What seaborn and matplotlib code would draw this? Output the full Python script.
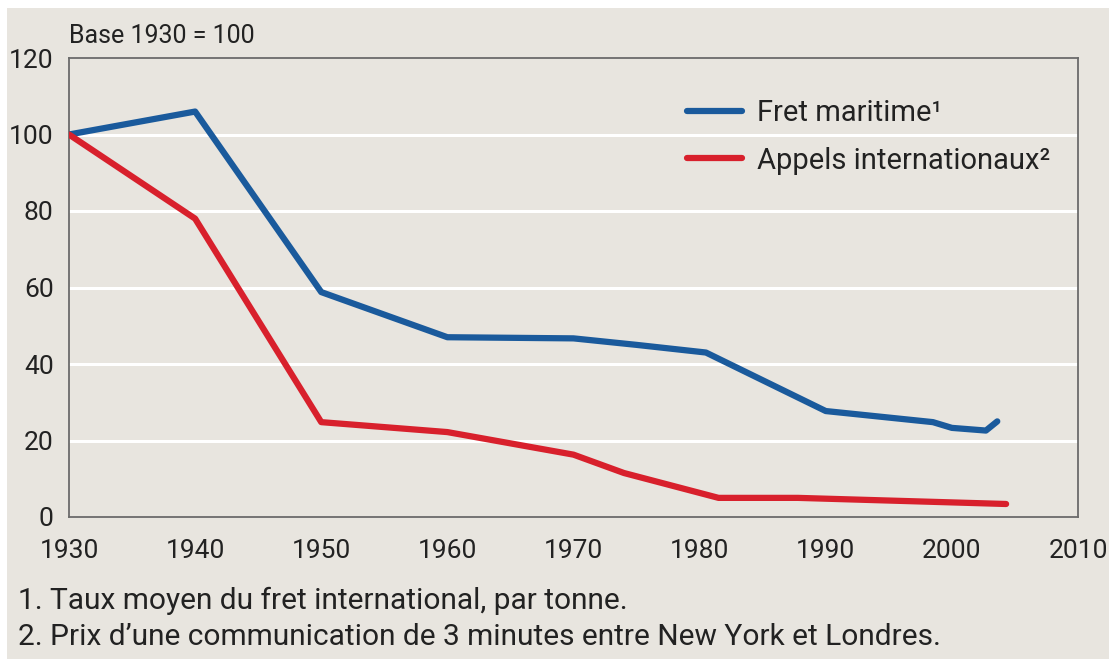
import matplotlib
matplotlib.use("Agg")
import matplotlib.pyplot as plt
import seaborn as sns
import pandas as pd
from matplotlib.patches import Rectangle

fret_years = [1930, 1940, 1950, 1960, 1970, 1975, 1980.5, 1990, 1998.5, 2000, 2002.7, 2003.6]
fret_values = [100, 106, 58.8, 47, 46.7, 45, 43, 27.7, 24.8, 23.3, 22.6, 25]
appels_years = [1930, 1940, 1950, 1960, 1970, 1974, 1981.5, 1987.8, 2004.3]
appels_values = [100, 78, 24.8, 22.2, 16.3, 11.5, 5.0, 5.0, 3.4]

series_names = ["Fret maritime¹", "Appels internationaux²"]
x_ticks = [1930, 1940, 1950, 1960, 1970, 1980, 1990, 2000, 2010]
y_ticks = [0, 20, 40, 60, 80, 100, 120]
base_label = "Base 1930 = 100"
notes = ["1. Taux moyen du fret international, par tonne.",
         "2. Prix d\u2019une communication de 3 minutes entre New York et Londres."]

df = pd.concat([
    pd.DataFrame({"annee": fret_years, "valeur": fret_values, "serie": series_names[0]}),
    pd.DataFrame({"annee": appels_years, "valeur": appels_values, "serie": series_names[1]}),
])

BG = "#e8e5df"
TXT = "#222222"
sns.set_theme(style="white")
plt.rcParams["font.family"] = ["Roboto", "DejaVu Sans"]

fig = plt.figure(figsize=(11.09, 6.59), dpi=100)
fig.patch.set_facecolor("white")
fig.patches.append(Rectangle((7 / 1109, 0), 1 - 7 / 1109, 651 / 659, transform=fig.transFigure,
                             facecolor=BG, edgecolor="none", zorder=-5))
ax = fig.add_axes([69 / 1109, (659 - 517) / 659, (1078 - 69) / 1109, (517 - 58) / 659])
ax.set_facecolor(BG)

palette = {series_names[0]: "#1a5a9c", series_names[1]: "#d8202c"}
sns.lineplot(data=df, x="annee", y="valeur", hue="serie", palette=palette, ax=ax,
             linewidth=4.5, sort=False, estimator=None, zorder=3)

ax.set_xlim(1930, 2010)
ax.set_ylim(0, 120)
ax.set_xticks(x_ticks)
ax.set_yticks(y_ticks)
ax.set_xlabel("")
ax.set_ylabel("")
for y in y_ticks[1:-1]:
    ax.axhline(y, color="white", lw=2.2, zorder=1)
for s in ax.spines.values():
    s.set_color("#6b6b6b")
    s.set_linewidth(1.3)
ax.tick_params(axis="y", direction="out", length=8, width=1.3, color="#6b6b6b",
               labelsize=19, labelcolor=TXT, pad=3)
ax.tick_params(axis="x", direction="in", length=8, width=1.3, color="#6b6b6b",
               labelsize=19, labelcolor=TXT, pad=16)

leg = ax.legend(loc="upper left", bbox_to_anchor=(0.6125, 0.91), frameon=False,
                fontsize=21, handlelength=1.9, handletextpad=0.5, labelspacing=0.66,
                borderpad=0, borderaxespad=0, labelcolor=TXT)
for line in leg.get_lines():
    line.set_linewidth(4.5)

fig.text(69 / 1109, 1 - 36 / 659, base_label, fontsize=18, color=TXT, va="center", ha="left")
fig.text(18 / 1109, 1 - 601 / 659, notes[0], fontsize=21.5, color=TXT, va="center", ha="left")
fig.text(18 / 1109, 1 - 637 / 659, notes[1], fontsize=21.5, color=TXT, va="center", ha="left")

fig.savefig("out.png", dpi=100, facecolor=fig.get_facecolor())
